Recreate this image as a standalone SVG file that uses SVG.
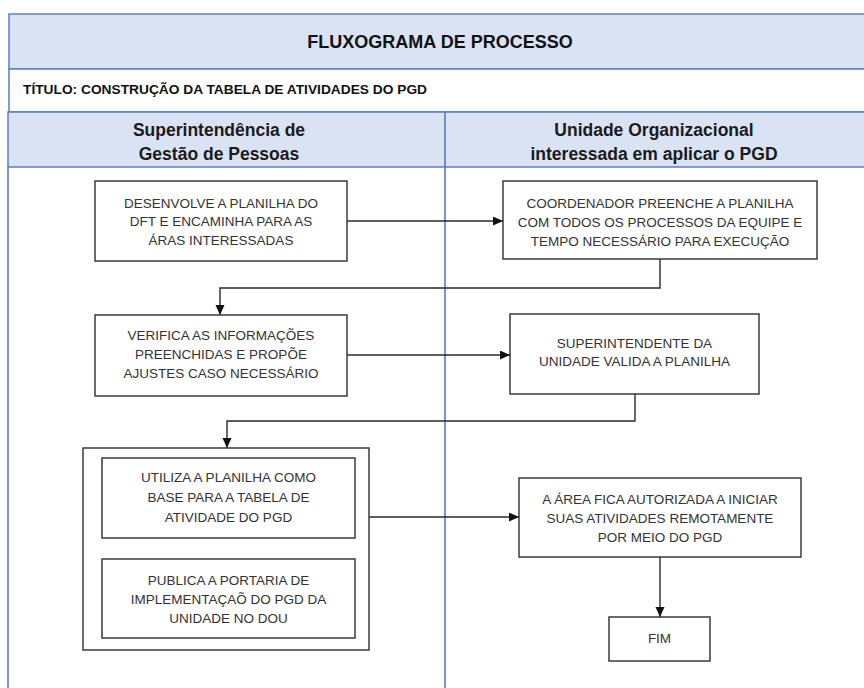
<svg xmlns="http://www.w3.org/2000/svg" width="864" height="688" viewBox="0 0 864 688">
<defs>
<style>
.band{fill:#dae3f3;stroke:#5b7fc2;stroke-width:1.5}
.row{fill:#ffffff;stroke:#5b7fc2;stroke-width:1.5}
.lane{stroke:#4f72b8;stroke-width:1.5;fill:none}
.box{fill:#ffffff;stroke:#3a3a3a;stroke-width:1.5}
.t{font-family:"Liberation Sans",Arial,sans-serif;font-size:13.5px;fill:#333333;text-anchor:middle}
.h1{font-family:"Liberation Sans",Arial,sans-serif;font-size:18px;font-weight:bold;fill:#111111;text-anchor:middle}
.h2{font-family:"Liberation Sans",Arial,sans-serif;font-size:13.5px;font-weight:bold;fill:#111111}
.h3{font-family:"Liberation Sans",Arial,sans-serif;font-size:17.5px;font-weight:bold;fill:#1a1a1a;text-anchor:middle}
.c{fill:none;stroke:#2a2a2a;stroke-width:1.4}
</style>
<marker id="arr" markerUnits="userSpaceOnUse" markerWidth="11" markerHeight="10" refX="10" refY="4.5" orient="auto">
<path d="M0,0 L10,4.5 L0,9 z" fill="#111111"/>
</marker>
</defs>
<rect width="864" height="688" fill="#ffffff"/>
<g id="header">
<rect class="band" x="9" y="14" width="870" height="55"/>
<text class="h1" x="440" y="48">FLUXOGRAMA DE PROCESSO</text>
<rect class="row" x="9" y="69" width="870" height="43"/>
<text class="h2" x="23" y="94" textLength="404" lengthAdjust="spacingAndGlyphs">TÍTULO: CONSTRUÇÃO DA TABELA DE ATIVIDADES DO PGD</text>
<rect class="band" x="8" y="112" width="870" height="55"/>
<line class="lane" x1="445" y1="112" x2="445" y2="167"/>
<text class="h3" x="219" y="135.5">Superintendência de</text>
<text class="h3" x="219" y="159.5">Gestão de Pessoas</text>
<text class="h3" x="654" y="135.5">Unidade Organizacional</text>
<text class="h3" x="654" y="159.5">interessada em aplicar o PGD</text>
</g>
<g id="lanes">
<line class="lane" x1="8" y1="167" x2="8" y2="690"/>
<line class="lane" x1="445" y1="167" x2="445" y2="690"/>
</g>
<g id="connectors">
<path class="c" d="M347,221 H503" marker-end="url(#arr)"/>
<path class="c" d="M660,259 V288 H220 V315" marker-end="url(#arr)"/>
<path class="c" d="M347,355 H510" marker-end="url(#arr)"/>
<path class="c" d="M635,394 V421 H227 V448" marker-end="url(#arr)"/>
<path class="c" d="M369,517 H519" marker-end="url(#arr)"/>
<path class="c" d="M660,557 V617" marker-end="url(#arr)"/>
</g>
<g id="n1">
<rect class="box" x="95" y="181" width="252" height="80"/>
<text class="t" x="221" y="207.5">DESENVOLVE A PLANILHA DO</text>
<text class="t" x="221" y="226.3">DFT E ENCAMINHA PARA AS</text>
<text class="t" x="221" y="245">ÁRAS INTERESSADAS</text>
</g>
<g id="n2">
<rect class="box" x="503" y="181" width="314" height="78"/>
<text class="t" x="660" y="208">COORDENADOR PREENCHE A PLANILHA</text>
<text class="t" x="660" y="227">COM TODOS OS PROCESSOS DA EQUIPE E</text>
<text class="t" x="660" y="246">TEMPO NECESSÁRIO PARA EXECUÇÃO</text>
</g>
<g id="n3">
<rect class="box" x="95" y="315" width="252" height="81"/>
<text class="t" x="221" y="340">VERIFICA AS INFORMAÇÕES</text>
<text class="t" x="221" y="359">PREENCHIDAS E PROPÕE</text>
<text class="t" x="221" y="378">AJUSTES CASO NECESSÁRIO</text>
</g>
<g id="n4">
<rect class="box" x="510" y="314" width="249" height="80"/>
<text class="t" x="634.5" y="348">SUPERINTENDENTE DA</text>
<text class="t" x="634.5" y="366">UNIDADE VALIDA A PLANILHA</text>
</g>
<g id="n5">
<rect class="box" x="83" y="448" width="286" height="202"/>
<g id="n5a">
<rect class="box" x="102" y="458" width="253" height="80"/>
<text class="t" x="228.5" y="482">UTILIZA A PLANILHA COMO</text>
<text class="t" x="228.5" y="502">BASE PARA A TABELA DE</text>
<text class="t" x="228.5" y="522">ATIVIDADE DO PGD</text>
</g>
<g id="n5b">
<rect class="box" x="102" y="559" width="253" height="79"/>
<text class="t" x="228.5" y="585">PUBLICA A PORTARIA DE</text>
<text class="t" x="228.5" y="604">IMPLEMENTAÇAÕ DO PGD DA</text>
<text class="t" x="228.5" y="623">UNIDADE NO DOU</text>
</g>
</g>
<g id="n6">
<rect class="box" x="519" y="478" width="282" height="79"/>
<text class="t" x="660" y="504">A ÁREA FICA AUTORIZADA A INICIAR</text>
<text class="t" x="660" y="523">SUAS ATIVIDADES REMOTAMENTE</text>
<text class="t" x="660" y="542">POR MEIO DO PGD</text>
</g>
<g id="n7">
<rect class="box" x="609" y="617" width="101" height="44"/>
<text class="t" x="659.5" y="643">FIM</text>
</g>
</svg>
